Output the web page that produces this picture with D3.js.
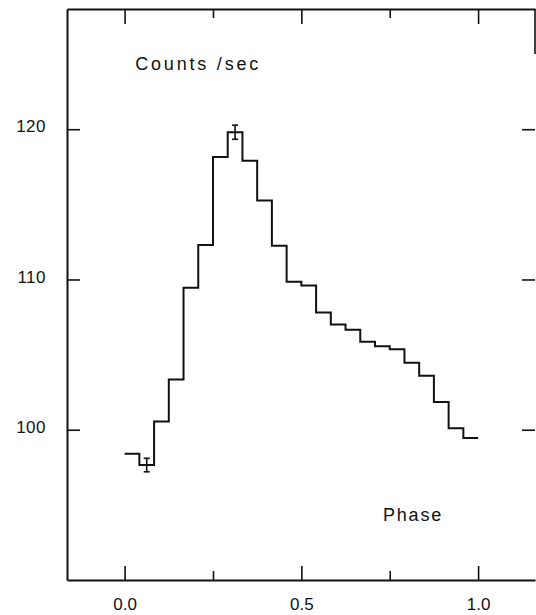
<!DOCTYPE html>
<html>
<head>
<meta charset="utf-8">
<script src="https://cdn.jsdelivr.net/npm/d3@7"></script>
<style>
  body { margin: 0; background: #fff; }
  svg { display: block; }
  .lbl { font-family: "Liberation Sans", Arial, sans-serif; fill: #111; }
</style>
</head>
<body>
<div id="chart"></div>
<script>
// phase bins (24 bins from 0 to 1) and count rates
var binEdges = d3.range(25).map(function(i) { return i / 24; });
var counts = [98.4, 97.65, 100.55, 103.35, 109.45, 112.3, 118.15, 119.8,
              117.9, 115.25, 112.25, 109.85, 109.6, 107.8, 107.0, 106.65,
              105.85, 105.55, 105.35, 104.45, 103.6, 101.85, 100.1, 99.45];
// error bars shown on two bins
var errBins = [1, 7];
var errSize = [0.45, 0.47];

var xMajor = [0, 0.5, 1];
var xMinor = [0.25, 0.75];
var yTicks = [100, 110, 120];

var W = 536, H = 615;
var margin = {left: 67, right: 535, top: 9, bottom: 580};

var svg = d3.select("#chart").append("svg")
    .attr("width", W)
    .attr("height", H);

var x = d3.scaleLinear().domain([-0.163, 1.161]).range([margin.left, margin.right]);
var y = d3.scaleLinear().domain([90, 128]).range([margin.bottom, margin.top]);

function styleAxis(g) {
  g.attr("font-size", null).attr("font-family", null);
  g.select(".domain").attr("stroke", "#111").attr("stroke-width", 2);
  g.selectAll(".tick line").attr("stroke", "#111").attr("stroke-width", 1.6);
  g.selectAll(".tick text")
    .attr("class", "lbl")
    .style("font-size", "17px")
    .attr("fill", "#111");
}

// bottom axis (major with labels, minor without)
svg.append("g")
    .attr("transform", "translate(0," + margin.bottom + ")")
    .call(d3.axisBottom(x).tickValues(xMajor).tickSizeInner(-14).tickSizeOuter(0)
      .tickPadding(18).tickFormat(d3.format(".1f")))
    .call(styleAxis);
svg.append("g")
    .attr("transform", "translate(0," + margin.bottom + ")")
    .call(d3.axisBottom(x).tickValues(xMinor).tickSizeInner(-9).tickSizeOuter(0).tickFormat(""))
    .call(styleAxis)
    .select(".domain").remove();

// top axis
svg.append("g")
    .attr("transform", "translate(0," + margin.top + ")")
    .call(d3.axisTop(x).tickValues(xMajor).tickSizeInner(-15).tickSizeOuter(0).tickFormat(""))
    .call(styleAxis);
svg.append("g")
    .attr("transform", "translate(0," + margin.top + ")")
    .call(d3.axisTop(x).tickValues(xMinor).tickSizeInner(-9).tickSizeOuter(0).tickFormat(""))
    .call(styleAxis)
    .select(".domain").remove();

// left axis
svg.append("g")
    .attr("transform", "translate(" + margin.left + ",0)")
    .call(d3.axisLeft(y).tickValues(yTicks).tickSizeInner(-13).tickSizeOuter(0)
      .tickPadding(21).tickFormat(d3.format("d")))
    .call(styleAxis)
    .selectAll(".tick text")
      .attr("dy", "0.15em")
      .style("letter-spacing", "0.5px");

// right axis: ticks only, the frame line is faded out except near the top
svg.append("g")
    .attr("transform", "translate(" + margin.right + ",0)")
    .call(d3.axisRight(y).tickValues(yTicks).tickSizeInner(-13).tickSizeOuter(0).tickFormat(""))
    .call(styleAxis)
    .select(".domain").remove();
svg.append("line")
    .attr("x1", margin.right).attr("x2", margin.right)
    .attr("y1", y(128)).attr("y2", y(125))
    .attr("stroke", "#111").attr("stroke-width", 1.6);

// histogram as a step line
var pts = [];
counts.forEach(function(c, i) {
  pts.push([binEdges[i], c]);
  pts.push([binEdges[i + 1], c]);
});
svg.append("path")
    .datum(pts)
    .attr("fill", "none")
    .attr("stroke", "#111")
    .attr("stroke-width", 2)
    .attr("d", d3.line().x(function(d) { return x(d[0]); }).y(function(d) { return y(d[1]); }));

// error bars
errBins.forEach(function(b, k) {
  var cx = x((binEdges[b] + binEdges[b + 1]) / 2);
  var lo = y(counts[b] - errSize[k]), hi = y(counts[b] + errSize[k]);
  var g = svg.append("g").attr("stroke", "#111").attr("stroke-width", 1.6);
  g.append("line").attr("x1", cx).attr("x2", cx).attr("y1", lo).attr("y2", hi);
  g.append("line").attr("x1", cx - 3).attr("x2", cx + 3).attr("y1", lo).attr("y2", lo);
  g.append("line").attr("x1", cx - 3).attr("x2", cx + 3).attr("y1", hi).attr("y2", hi);
});

// labels
svg.append("text")
    .attr("class", "lbl")
    .attr("x", x(0.03))
    .attr("y", y(123.95))
    .style("font-size", "18px")
    .style("letter-spacing", "2.8px")
    .text("Counts /sec");

svg.append("text")
    .attr("class", "lbl")
    .attr("x", x(0.731))
    .attr("y", y(93.95))
    .style("font-size", "18px")
    .style("letter-spacing", "1.8px")
    .text("Phase");
</script>
</body>
</html>
